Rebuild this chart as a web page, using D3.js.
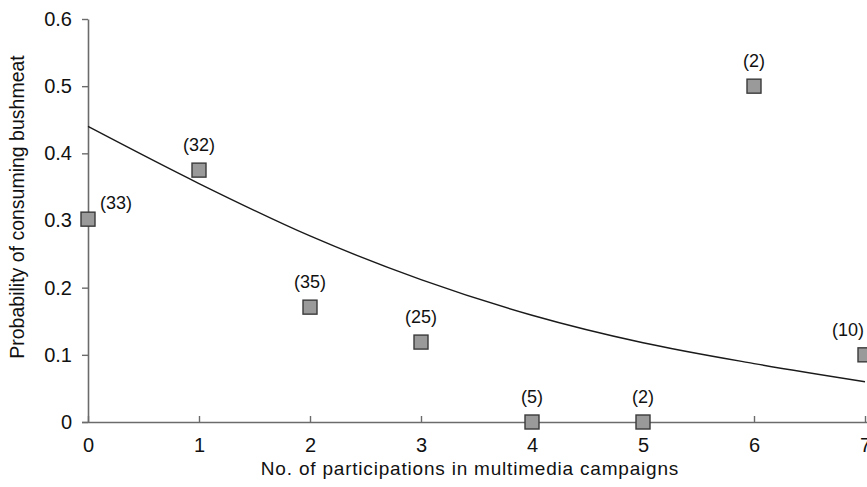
<!DOCTYPE html>
<html>
<head>
<meta charset="utf-8">
<script src="https://cdn.jsdelivr.net/npm/d3@7"></script>
<style>
  body { margin: 0; background: #fff; }
  text { font-family: "Liberation Sans", Arial, sans-serif; fill: #111; }
</style>
</head>
<body>
<svg id="chart" width="867" height="487"></svg>
<script>
// Data
const participations = [0, 1, 2, 3, 4, 5, 6, 7];
const observed = [0.302, 0.375, 0.171, 0.119, 0, 0, 0.5, 0.1];
const sampleSizes = ["(33)", "(32)", "(35)", "(25)", "(5)", "(2)", "(2)", "(10)"];
const fitted = [0.44, 0.355, 0.277, 0.212, 0.159, 0.118, 0.087, 0.06];
const xTicks = [0, 1, 2, 3, 4, 5, 6, 7];
const yTicks = [0, 0.1, 0.2, 0.3, 0.4, 0.5, 0.6];
const yTickLabels = ["0", "0.1", "0.2", "0.3", "0.4", "0.5", "0.6"];

const svg = d3.select("#chart");
const x = d3.scaleLinear().domain([0, 7]).range([88, 865]);
const y = d3.scaleLinear().domain([0, 0.6]).range([422, 19]);

const axisColor = "#6b6b6b";

// Y axis
const yAxis = svg.append("g").attr("transform", `translate(${x(0)},0)`)
  .call(d3.axisLeft(y).tickValues(yTicks).tickFormat((d, i) => yTickLabels[i]).tickSize(6).tickSizeOuter(0).tickPadding(10));
yAxis.select(".domain").attr("stroke", axisColor).attr("stroke-width", 1.6);
yAxis.selectAll(".tick line").attr("stroke", axisColor).attr("stroke-width", 1.4);
yAxis.selectAll(".tick text").attr("font-size", 20).attr("fill", "#111");

// X axis
const xAxis = svg.append("g").attr("transform", `translate(0,${y(0)})`)
  .call(d3.axisBottom(x).tickValues(xTicks).tickFormat(d3.format("d")).tickSize(-6).tickSizeOuter(0).tickPadding(9));
xAxis.select(".domain").attr("stroke", axisColor).attr("stroke-width", 1.6)
  .attr("d", `M${x(0) - 6},0.5H${x(7) + 2}`);
xAxis.selectAll(".tick line").attr("stroke", axisColor).attr("stroke-width", 1.4);
xAxis.selectAll(".tick text").attr("font-size", 20).attr("fill", "#111").attr("dy", "1.05em");

// Fitted curve
const line = d3.line()
  .x((d, i) => x(participations[i]))
  .y(d => y(d))
  .curve(d3.curveMonotoneX);
svg.append("path").datum(fitted)
  .attr("d", line)
  .attr("fill", "none")
  .attr("stroke", "#1a1a1a")
  .attr("stroke-width", 1.4);

// Observed points
const sz = 14;
svg.append("g").selectAll("rect").data(observed).join("rect")
  .attr("x", (d, i) => x(participations[i]) - sz / 2)
  .attr("y", d => y(d) - sz / 2)
  .attr("width", sz).attr("height", sz)
  .attr("fill", "#9a9a9a")
  .attr("stroke", "#3a3a3a")
  .attr("stroke-width", 1.4);

// Sample size labels
const labelOffsets = [[28, -16], [0, -25], [0, -25], [0, -25], [0, -25], [0, -25], [0, -25], [-17, -25]];
svg.append("g").selectAll("text").data(sampleSizes).join("text")
  .attr("x", (d, i) => x(participations[i]) + labelOffsets[i][0])
  .attr("y", (d, i) => y(observed[i]) + labelOffsets[i][1])
  .attr("text-anchor", "middle")
  .attr("dominant-baseline", "central")
  .attr("font-size", 18)
  .text(d => d);

// Axis titles
svg.append("text")
  .attr("x", 470).attr("y", 468)
  .attr("text-anchor", "middle")
  .attr("dominant-baseline", "central")
  .attr("font-size", 19)
  .attr("letter-spacing", 0.8)
  .text("No. of participations in multimedia  campaigns");

svg.append("text")
  .attr("transform", `translate(17,${207}) rotate(-90)`)
  .attr("text-anchor", "middle")
  .attr("dominant-baseline", "central")
  .attr("font-size", 19.5)
  .text("Probability of consuming bushmeat");
</script>
</body>
</html>
